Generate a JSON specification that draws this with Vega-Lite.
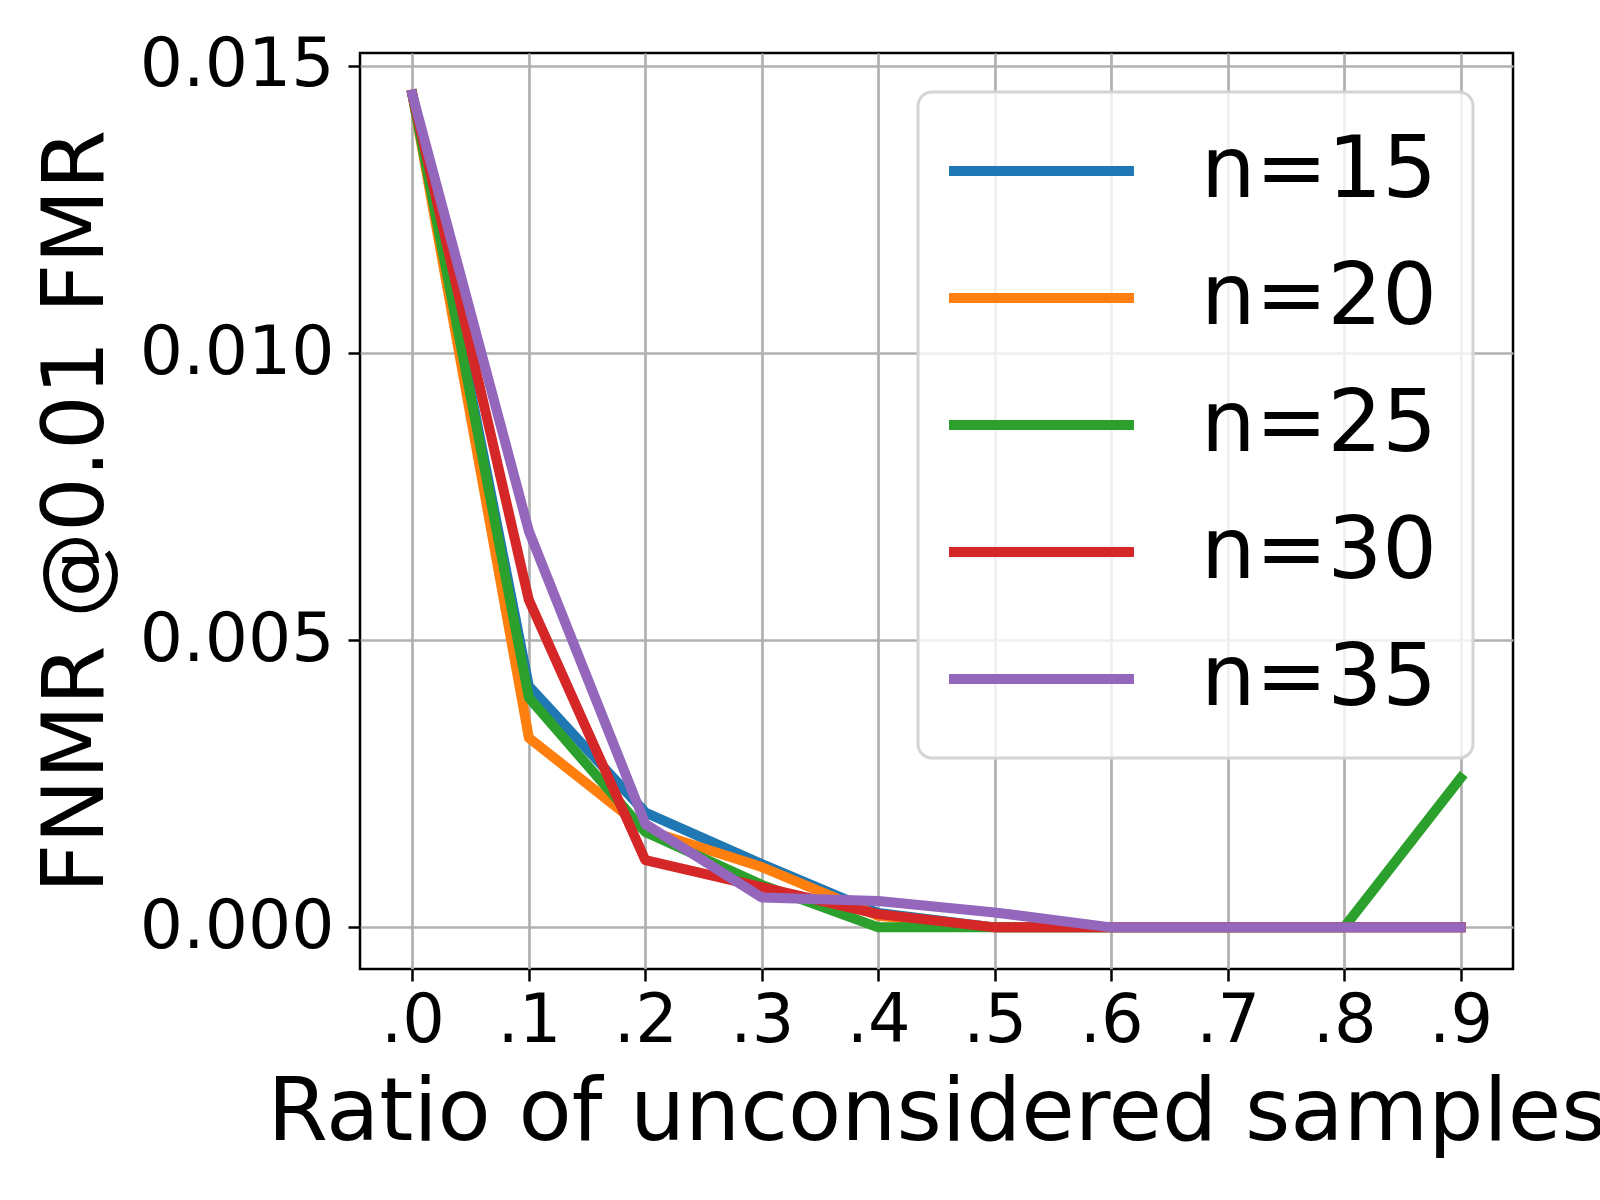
{
  "$schema": "https://vega.github.io/schema/vega-lite/v6.json",
  "width": 1153,
  "height": 916,
  "autosize": "none",
  "padding": {"left": 360, "top": 53, "right": 87, "bottom": 231},
  "background": "white",
  "config": {
    "font": "DejaVu Sans",
    "view": {"stroke": "black", "strokeWidth": 2.5}
  },
  "data": {
    "values": [
      {"ratio": 0.0, "fnmr": 0.0145, "n": "n=15"},
      {"ratio": 0.1, "fnmr": 0.0042, "n": "n=15"},
      {"ratio": 0.2, "fnmr": 0.0020, "n": "n=15"},
      {"ratio": 0.3, "fnmr": 0.0011, "n": "n=15"},
      {"ratio": 0.4, "fnmr": 0.00025, "n": "n=15"},
      {"ratio": 0.5, "fnmr": 0.0, "n": "n=15"},
      {"ratio": 0.6, "fnmr": 0.0, "n": "n=15"},
      {"ratio": 0.7, "fnmr": 0.0, "n": "n=15"},
      {"ratio": 0.8, "fnmr": 0.0, "n": "n=15"},
      {"ratio": 0.9, "fnmr": 0.0, "n": "n=15"},
      {"ratio": 0.0, "fnmr": 0.0145, "n": "n=20"},
      {"ratio": 0.1, "fnmr": 0.0033, "n": "n=20"},
      {"ratio": 0.2, "fnmr": 0.0017, "n": "n=20"},
      {"ratio": 0.3, "fnmr": 0.00105, "n": "n=20"},
      {"ratio": 0.4, "fnmr": 0.0002, "n": "n=20"},
      {"ratio": 0.5, "fnmr": 0.0, "n": "n=20"},
      {"ratio": 0.6, "fnmr": 0.0, "n": "n=20"},
      {"ratio": 0.7, "fnmr": 0.0, "n": "n=20"},
      {"ratio": 0.8, "fnmr": 0.0, "n": "n=20"},
      {"ratio": 0.9, "fnmr": 0.0, "n": "n=20"},
      {"ratio": 0.0, "fnmr": 0.0145, "n": "n=25"},
      {"ratio": 0.1, "fnmr": 0.0040, "n": "n=25"},
      {"ratio": 0.2, "fnmr": 0.00166, "n": "n=25"},
      {"ratio": 0.3, "fnmr": 0.00074, "n": "n=25"},
      {"ratio": 0.4, "fnmr": 0.0, "n": "n=25"},
      {"ratio": 0.5, "fnmr": 0.0, "n": "n=25"},
      {"ratio": 0.6, "fnmr": 0.0, "n": "n=25"},
      {"ratio": 0.7, "fnmr": 0.0, "n": "n=25"},
      {"ratio": 0.8, "fnmr": 0.0, "n": "n=25"},
      {"ratio": 0.9, "fnmr": 0.0026, "n": "n=25"},
      {"ratio": 0.0, "fnmr": 0.0145, "n": "n=30"},
      {"ratio": 0.1, "fnmr": 0.0057, "n": "n=30"},
      {"ratio": 0.2, "fnmr": 0.00117, "n": "n=30"},
      {"ratio": 0.3, "fnmr": 0.0007, "n": "n=30"},
      {"ratio": 0.4, "fnmr": 0.00023, "n": "n=30"},
      {"ratio": 0.5, "fnmr": 0.0, "n": "n=30"},
      {"ratio": 0.6, "fnmr": 0.0, "n": "n=30"},
      {"ratio": 0.7, "fnmr": 0.0, "n": "n=30"},
      {"ratio": 0.8, "fnmr": 0.0, "n": "n=30"},
      {"ratio": 0.9, "fnmr": 0.0, "n": "n=30"},
      {"ratio": 0.0, "fnmr": 0.0145, "n": "n=35"},
      {"ratio": 0.1, "fnmr": 0.0069, "n": "n=35"},
      {"ratio": 0.2, "fnmr": 0.0018, "n": "n=35"},
      {"ratio": 0.3, "fnmr": 0.00052, "n": "n=35"},
      {"ratio": 0.4, "fnmr": 0.00046, "n": "n=35"},
      {"ratio": 0.5, "fnmr": 0.00026, "n": "n=35"},
      {"ratio": 0.6, "fnmr": 0.0, "n": "n=35"},
      {"ratio": 0.7, "fnmr": 0.0, "n": "n=35"},
      {"ratio": 0.8, "fnmr": 0.0, "n": "n=35"},
      {"ratio": 0.9, "fnmr": 0.0, "n": "n=35"}
    ]
  },
  "mark": {"type": "line", "strokeWidth": 10, "strokeJoin": "round", "strokeCap": "square", "clip": true},
  "encoding": {
    "x": {
      "field": "ratio",
      "type": "quantitative",
      "scale": {"domain": [-0.045, 0.945], "nice": false, "zero": false},
      "axis": {
        "values": [0, 0.1, 0.2, 0.3, 0.4, 0.5, 0.6, 0.7, 0.8, 0.9],
        "labelExpr": "replace(format(datum.value, '.1f'), '0.', '.')",
        "title": "Ratio of unconsidered samples",
        "titleFontSize": 87,
        "titleFontWeight": "normal",
        "titleColor": "black",
        "titlePadding": 16,
        "labelFontSize": 67,
        "labelColor": "black",
        "labelPadding": 7,
        "labelFlush": false,
        "labelOverlap": false,
        "domain": false,
        "ticks": true,
        "tickSize": 12,
        "tickWidth": 2.5,
        "tickColor": "black",
        "grid": true,
        "gridColor": "#b0b0b0",
        "gridWidth": 2.7
      }
    },
    "y": {
      "field": "fnmr",
      "type": "quantitative",
      "scale": {"domain": [-0.000725, 0.015225], "nice": false, "zero": false},
      "axis": {
        "values": [0, 0.005, 0.01, 0.015],
        "format": ".3f",
        "title": "FNMR @0.01 FMR",
        "titleFontSize": 86,
        "titleFontWeight": "normal",
        "titleColor": "black",
        "titlePadding": 40,
        "labelFontSize": 68,
        "labelColor": "black",
        "labelPadding": 14,
        "labelLimit": 400,
        "labelFlush": false,
        "labelOverlap": false,
        "domain": false,
        "ticks": true,
        "tickSize": 12,
        "tickWidth": 2.5,
        "tickColor": "black",
        "grid": true,
        "gridColor": "#b0b0b0",
        "gridWidth": 2.7
      }
    },
    "color": {
      "field": "n",
      "type": "nominal",
      "scale": {
        "domain": ["n=15", "n=20", "n=25", "n=30", "n=35"],
        "range": ["#1f77b4", "#ff7f0e", "#2ca02c", "#d62728", "#9467bd"]
      },
      "legend": {
        "title": null,
        "orient": "none",
        "legendX": 558,
        "legendY": 39,
        "labelFontSize": 86,
        "labelColor": "black",
        "labelLimit": 400,
        "labelOffset": 161,
        "symbolType": "M-1.5,0H4.28",
        "symbolSize": 4096,
        "symbolStrokeWidth": 10,
        "padding": 36,
        "rowPadding": 41,
        "fillColor": "rgba(255,255,255,0.8)",
        "strokeColor": "#d4d4d4",
        "cornerRadius": 14,
        "encode": {"legend": {"update": {"strokeWidth": {"value": 3}}}}
      }
    }
  }
}
